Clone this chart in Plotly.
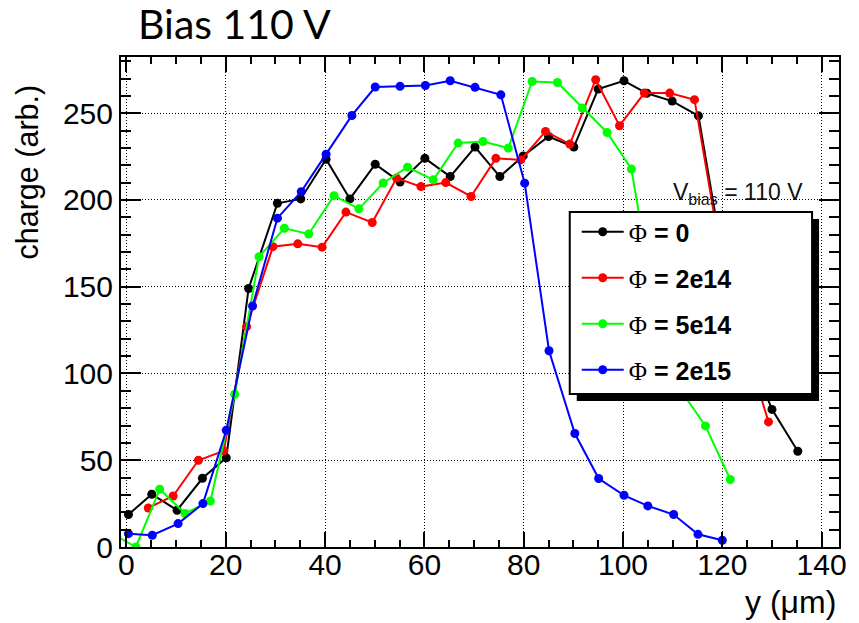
import plotly.graph_objects as go

# ---------------- data ----------------
series_names = ["0", "2e14", "5e14", "2e15"]
series_colors = ["#000000", "#ff0000", "#00ff00", "#0000ff"]

x_phi0 = [0.4, 5.1, 10.2, 15.3, 20.1, 24.6, 30.4, 35.1, 40.2, 45.0, 50.1, 55.1, 60.1, 65.2,
          70.2, 75.2, 79.9, 85.0, 90.1, 95.0, 100.2, 104.8, 109.9, 115.2, 120.0, 125.0, 130.0, 135.2]
y_phi0 = [18.7, 30.4, 21.2, 39.6, 51.4, 149.0, 198.1, 200.6, 223.5, 200.6, 220.6, 210.3, 224.0, 213.5,
          230.5, 213.5, 225.4, 236.6, 230.5, 263.9, 268.7, 261.5, 257.0, 248.5, 168.0, 115.0, 79.3, 55.2]

x_phi2e14 = [4.4, 9.4, 14.5, 19.6, 24.2, 29.5, 34.5, 39.4, 44.2, 49.5, 54.4, 59.3, 64.3, 69.4,
             74.4, 79.4, 84.4, 89.3, 94.5, 99.3, 104.3, 109.4, 114.4, 119.4, 124.4, 129.3]
y_phi2e14 = [22.5, 29.4, 50.0, 55.4, 127.0, 173.1, 174.7, 172.8, 193.0, 187.0, 212.6, 207.7, 210.0, 202.0,
             224.0, 223.1, 239.5, 232.2, 269.3, 242.8, 261.6, 261.6, 257.8, 174.0, 118.0, 72.1]

x_phi5e14 = [-3.1, 1.9, 6.7, 11.8, 16.9, 21.8, 26.7, 31.8, 36.7, 41.8, 46.8, 51.7, 56.6, 61.8,
             66.8, 71.8, 76.9, 81.7, 86.8, 91.8, 96.8, 101.7, 106.7, 111.7, 116.6, 121.6]
y_phi5e14 = [8.0, 0.0, 33.3, 19.3, 26.5, 88.0, 167.3, 183.7, 180.4, 202.5, 194.9, 209.8, 218.9, 211.6,
             232.8, 233.7, 229.9, 268.3, 267.7, 253.0, 238.9, 217.8, 133.0, 90.0, 69.8, 38.9]

x_phi2e15 = [0.4, 5.2, 10.4, 15.4, 20.1, 25.4, 30.4, 35.2, 40.2, 45.4, 50.1, 55.1, 60.2, 65.2,
             70.2, 75.4, 80.2, 85.1, 90.3, 95.1, 100.2, 105.0, 110.2, 115.1, 120.0]
y_phi2e15 = [7.7, 6.8, 13.5, 25.0, 67.3, 138.9, 189.5, 204.8, 226.4, 248.7, 265.1, 265.5, 266.0, 268.7,
             264.9, 260.6, 209.7, 113.1, 65.4, 39.5, 29.8, 23.7, 18.7, 7.3, 3.9]

xs = [x_phi0, x_phi2e14, x_phi5e14, x_phi2e15]
ys = [y_phi0, y_phi2e14, y_phi5e14, y_phi2e15]

x_range = [-1.1, 143.5]
y_range = [0, 282.4]
x_ticks = [0, 20, 40, 60, 80, 100, 120, 140]
y_ticks = [0, 50, 100, 150, 200, 250]

title_text = "Bias 110 V"
x_title = "y (μm)"
y_title = "charge (arb.)"
vbias_text = "V<sub>bias</sub> = 110 V"

# ---------------- layout geometry (pixels) ----------------
W, H = 859, 623
L, R, T, B = 121, 841, 57, 547   # plot-area edges in px


def px_x(p):
    return (p - L) / (R - L)


def px_y(p):
    return (B - p) / (B - T)


fig = go.Figure()
for name, col, xv, yv in zip(series_names, series_colors, xs, ys):
    fig.add_trace(go.Scatter(
        x=xv, y=yv, mode="lines+markers",
        name=("<span style='font-family:\"Liberation Serif\"'>Φ</span>"
              "<b> = " + name + "</b>"),
        legendgroup=name,
        line=dict(color=col, width=2),
        marker=dict(color=col, size=9, symbol="circle"),
    ))

SANS = "Liberation Sans"

axis_common = dict(
    showline=True, linewidth=2, linecolor="black", mirror="ticks",
    ticks="inside", tickcolor="black", tickwidth=2,
    showgrid=True, gridcolor="black", gridwidth=1, griddash="1px,2px",
    zeroline=False,
    tickfont=dict(family=SANS, size=30, color="black"),
)

fig.update_xaxes(
    range=x_range, tickvals=x_ticks, ticklen=15, ticklabelstandoff=-10,
    minor=dict(dtick=5, tick0=0, ticks="inside", ticklen=7, tickcolor="black",
               tickwidth=2, showgrid=False),
    **axis_common,
)
fig.update_yaxes(
    range=y_range, tickvals=y_ticks, ticklen=20,
    minor=dict(dtick=10, tick0=0, ticks="inside", ticklen=10, tickcolor="black",
               tickwidth=2, showgrid=False),
    **axis_common,
)

# legend box (ROOT style with drop shadow)
box_l, box_t, box_r, box_b = 571, 212, 814, 394
sh = 7
shapes = [
    dict(type="rect", xref="paper", yref="paper", layer="above",
         x0=px_x(box_l + sh), x1=px_x(box_r + sh), y0=px_y(box_b + sh), y1=px_y(box_t + sh),
         fillcolor="black", line=dict(width=0)),
    dict(type="rect", xref="paper", yref="paper", layer="above",
         x0=px_x(box_l), x1=px_x(box_r), y0=px_y(box_b), y1=px_y(box_t),
         fillcolor="white", line=dict(color="black", width=2)),
]

annotations = [
    dict(text=title_text, xref="paper", yref="paper", x=px_x(136), y=px_y(23),
         xanchor="left", yanchor="middle", showarrow=False,
         font=dict(family="Lato", size=41, color="black")),
    dict(text=vbias_text, xref="paper", yref="paper", x=px_x(673), y=px_y(177),
         xanchor="left", yanchor="top", showarrow=False,
         font=dict(family=SANS, size=23, color="#111111")),
    dict(text=y_title, xref="paper", yref="paper", x=px_x(27.2), y=px_y(172),
         xanchor="center", yanchor="middle", textangle=-90, showarrow=False,
         font=dict(family=SANS, size=30.5, color="black")),
    dict(text=x_title, xref="paper", yref="paper", x=px_x(840), y=px_y(602),
         xanchor="right", yanchor="middle", showarrow=False,
         font=dict(family=SANS, size=32, color="black")),
]

fig.update_layout(
    width=W, height=H,
    margin=dict(l=L, r=W - R, t=T, b=H - B, pad=0),
    paper_bgcolor="white", plot_bgcolor="white",
    showlegend=True,
    legend=dict(
        x=px_x(box_l + 7), y=px_y(box_t - 3), xanchor="left", yanchor="top",
        bgcolor="rgba(0,0,0,0)", borderwidth=0,
        font=dict(family=SANS, size=25, color="black"),
        tracegroupgap=10.5, itemwidth=42,
    ),
    shapes=shapes,
    annotations=annotations,
)

fig.write_html("out.html")
